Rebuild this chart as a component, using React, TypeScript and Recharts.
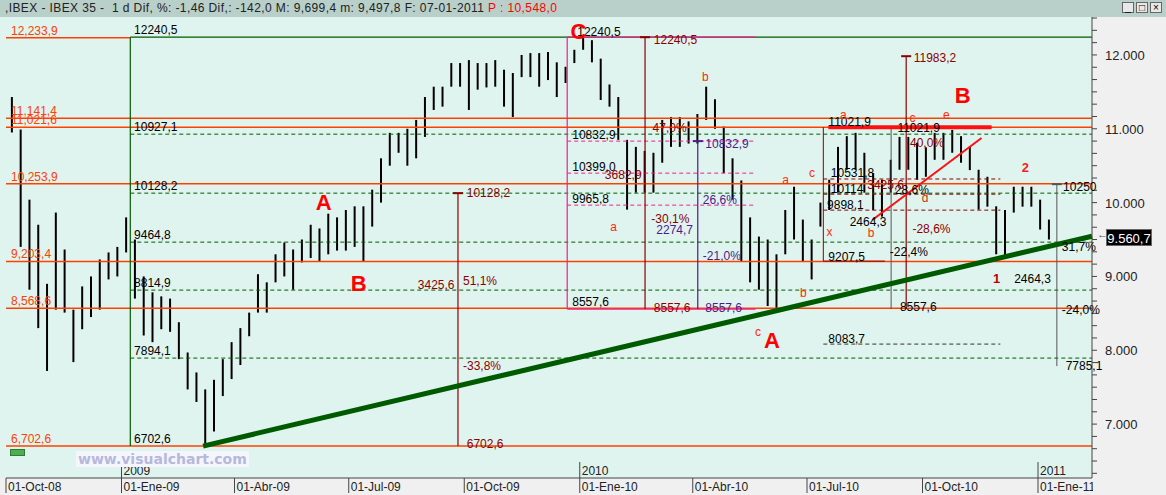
import React from 'react';
import { ComposedChart, Bar, XAxis, YAxis, ReferenceLine, ReferenceDot } from 'recharts';

// weekly high / low of the IBEX 35, week 0 = first week of Oct 2008
const weekHigh = [
  11430, 10990, 10040, 9700, 8900, 9865, 9365, 8550, 8865, 9000,
  9230, 9325, 9400, 9800, 9500, 9000, 8785, 8730, 8700, 8380,
  7970, 7700, 7470, 7600, 7880, 8110, 8300, 8510, 9030, 8920,
  9300, 9460, 9365, 9500, 9700, 9650, 9850, 9800, 9900, 9950,
  9950, 10175, 10600, 10945, 10945, 11000, 11120, 11430, 11570, 11570,
  11890, 11890, 11930, 11890, 11890, 11930, 11800, 11755, 12000, 12025,
  12025, 12040, 11900, 11840, 12070, 12240, 12200, 11950, 11600, 11430,
  10850, 10755, 10700, 10675, 11120, 11160, 11160, 11100, 11200, 11570,
  11400, 11030, 10600, 10300, 9800, 9540, 9500, 9300, 9900, 10215,
  9770, 9500, 10000, 10310, 10755, 10900, 10945, 10675, 10400, 10310,
  10580, 10890, 10890, 10810, 10750, 10945, 10945, 10985, 10900, 10755,
  10445, 10350, 9950, 9900, 10215, 10215, 10215, 10040, 9770,
];
const weekLow = [
  10950, 9400, 8820, 8300, 7720, 8550, 8510, 7840, 8285, 8450,
  8550, 8960, 9000, 9325, 8700, 8200, 8110, 8285, 8250, 7880,
  7470, 7300, 6702.6, 6900, 7380, 7610, 7800, 8190, 8510, 8510,
  8920, 9000, 8820, 9190, 9250, 9200, 9300, 9350, 9350, 9400,
  9200, 9675, 10000, 10500, 10675, 10500, 10600, 10890, 11255, 11300,
  11570, 11570, 11255, 11530, 11560, 11570, 11300, 11160, 11700, 11700,
  11570, 11660, 11430, 11620, 11890, 12070, 11900, 11390, 11300, 10850,
  9905, 10135, 10135, 10135, 10540, 10755, 10755, 10800, 10800, 11120,
  11000, 10400, 10040, 9200, 8920, 8820, 8600, 8557.6, 9300, 9500,
  9200, 8960, 9675, 9900, 10135, 10445, 10445, 10135, 9900, 9810,
  10135, 10445, 10445, 10310, 10350, 10580, 10580, 10675, 10540, 10440,
  9905, 9945, 9300, 9285, 9865, 9945, 9945, 9635, 9500,
];

// x axis in days since 01-Oct-2008
const dateTicks = [0, 92, 182, 273, 365, 457, 547, 638, 730, 822];
const dateLabels = ['01-Oct-08', '01-Ene-09', '01-Abr-09', '01-Jul-09', '01-Oct-09', '01-Ene-10', '01-Abr-10', '01-Jul-10', '01-Oct-10', '01-Ene-11'];
const yearLabels: Record<number, string> = { 92: '2009', 457: '2010', 822: '2011' };

const orangeLevels = [11141.4, 11021.6, 10253.9, 9203.4, 8568.6, 6702.6];
const orangeNames = ['12,233,9', '11,141,4', '11,021,6', '10,253,9', '9,203,4', '8,568,6', '6,702,6'];
const orangeNameLevels = [12233.9, 11141.4, 11021.6, 10253.9, 9203.4, 8568.6, 6702.6];
const fibLevels = [10927.1, 10128.2, 9464.8, 8814.9, 7894.1];
const fibNames = ['12240,5', '10927,1', '10128,2', '9464,8', '8814,9', '7894,1', '6702,6'];
const fibNameLevels = [12240.5, 10927.1, 10128.2, 9464.8, 8814.9, 7894.1, 6702.6];
const pinkLevels = [10832.9, 10399.0, 9965.8];
const brownDashLevels = [10320, 10114, 9898.1];

const bigWaves: [number, number, string][] = [
  [253, 10008, 'A'], [281, 8911, 'B'], [456, 12320, 'C'], [610, 8138, 'A'], [762, 11444, 'B'],
];
const smallWaves: [number, number, string][] = [
  [484, 9669, 'a'], [557, 11702, 'b'], [621, 10306, 'a'], [642, 10401, 'c'], [656, 9602, 'x'],
  [635, 8775, 'b'], [599, 8247, 'c'], [667, 11187, 'a'], [722, 11146, 'c'], [749, 11187, 'e'],
  [732, 10062, 'd'], [689, 9588, 'b'],
];
const blackNotes: [number, number, string][] = [
  [455, 12310, '12240,5'], [451, 10916, '10832,9'], [451, 10482, '10399,0'], [451, 10049, '9965,8'], [451, 8653, '8557,6'],
  [655, 11092, '11021,9'], [655, 9263, '9207,5'], [657, 10401, '10531,8'], [657, 10184, '10114'], [654, 9967, '9898,1'],
  [672, 9737, '2464,3'], [710, 11011, '11021,9'], [655, 8152, '8083,7'], [704, 9330, '-22,4%'], [803, 8965, '2464,3'],
  [842, 10211, '10250'], [841, 9398, '31,7%'], [841, 8545, '-24,0%'], [844, 7786, '7785,1'], [712, 8585, '8557,6'],
  [708, 10170, '28,6%'],
];
const brownNotes: [number, number, string][] = [
  [367, 10128, '10128,2'], [364, 8938, '51,1%'], [328, 8884, '3425,6'], [364, 7786, '-33,8%'], [367, 6730, '6702,6'],
  [516, 12200, '12240,5'], [516, 8570, '8557,6'], [477, 10374, '3682,9'], [514, 9778, '-30,1%'], [515, 11011, '47,0%'],
  [723, 11959, '11983,2'], [720, 10808, '40,0%'], [686, 10239, '3425,6'], [722, 9642, '-28,6%'],
];
const purpleNotes: [number, number, string][] = [
  [557, 10794, '10832,9'], [557, 8570, '8557,6'], [518, 9629, '2274,7'], [555, 10035, '26,6%'], [555, 9276, '-21,0%'],
];

const rows = weekHigh.map((h, i) => ({ day: 5 + 7 * i, range: [weekLow[i], h] }));
const priceTicks = Array.from({ length: 38 }, (_, i) => 6333.333 + i * 166.6667).filter(v => v < 12514);

const FONT = '"Liberation Sans", Arial, sans-serif';
const ORANGE = '#ff4000';
const BROWN = '#8b0000';
const PURPLE = '#4b1a8c';
const PINK = '#ee2090';
const GREEN = '#005a00';

const DateTick = (p: any) => {
  const { x, y, payload } = p;
  const i = dateTicks.indexOf(payload.value);
  const yr = yearLabels[payload.value];
  return (
    <g>
      <line x1={x} y1={y} x2={x} y2={y + 15} stroke="#444" />
      <text x={x + 2} y={y + 13} fontSize={12} fontFamily={FONT} fill="#222">{dateLabels[i]}</text>
      {yr && <line x1={x} y1={y - 16} x2={x} y2={y} stroke="#444" />}
      {yr && <text x={x + 2} y={y - 3} fontSize={12} fontFamily={FONT} fill="#222">{yr}</text>}
    </g>
  );
};

const PriceTick = (p: any) => {
  const v = p.payload.value;
  const k = Math.round(v / 1000);
  if (Math.abs(v - k * 1000) > 1) return <g />;
  return <text x={p.x} y={p.y} dy={5} fontSize={13} fontFamily={FONT} fill="#222">{k + '.000'}</text>;
};

const textAt = (text: string, color: string, size: number, bold: boolean, anchor: string) => (p: any) => {
  const vb = p.viewBox || {};
  return (
    <text x={vb.x} y={vb.y} fill={color} fontSize={size} fontFamily={FONT} fontWeight={bold ? 700 : 400}
      textAnchor={anchor} dominantBaseline="central">{text}</text>
  );
};

const note = (d: number, v: number, text: string, color: string, size = 12, bold = false, anchor = 'start', key = '') => (
  <ReferenceDot key={key || text + d + v} x={d} y={v} r={0} stroke="none" fill="none" ifOverflow="visible"
    label={textAt(text, color, size, bold, anchor)} />
);

const seg = (d1: number, v1: number, d2: number, v2: number, color: string, width = 1, dash?: string) => (
  <ReferenceLine key={`${d1}-${v1}-${d2}-${v2}-${color}`} segment={[{ x: d1, y: v1 }, { x: d2, y: v2 }]}
    stroke={color} strokeWidth={width} strokeDasharray={dash} ifOverflow="visible" />
);

export default function App() {
  return (
    <div style={{ position: 'fixed', left: 0, top: 0, width: 1166, height: 495, background: '#f0f0f0', overflow: 'hidden', fontFamily: FONT }}>
      <div style={{ position: 'absolute', left: 0, top: 0, width: 1166, height: 17, background: '#b9cfc9' }} />
      <div style={{ position: 'absolute', left: 5, top: 1, fontSize: 12, letterSpacing: 0.4, color: '#222', whiteSpace: 'pre' }}>
        {',IBEX - IBEX 35 -  1 d Dif, %: -1,46 Dif,: -142,0 M: 9,699,4 m: 9,497,8 F: 07-01-2011 '}
        <span style={{ color: '#ff0000' }}>{'P : 10,548,0'}</span>
      </div>
      {[1122, 1136, 1150].map((x, i) => (
        <div key={x} style={{ position: 'absolute', left: x, top: 2, width: 12, height: 11, background: '#e8e8e8', border: '1px solid #666', boxSizing: 'border-box', fontSize: 10, lineHeight: '9px', textAlign: 'center' }}>
          {['_', '□', '×'][i]}
        </div>
      ))}
      <div style={{ position: 'absolute', left: 0, top: 17, width: 1092, height: 461, background: '#e0f4ef' }} />
      <div style={{ position: 'absolute', left: 0, top: 17 }}>
        <ComposedChart width={1166} height={478} data={rows} margin={{ top: 0, right: 4, bottom: 0, left: 6 }}>
          <XAxis type="number" dataKey="day" domain={[0, 865]} allowDataOverflow ticks={dateTicks} interval={0}
            tickSize={0} tickMargin={0} tickLine={false} axisLine={{ stroke: '#444' }} height={17} tick={DateTick} />
          <YAxis orientation="right" type="number" domain={[6270, 12514]} allowDataOverflow ticks={priceTicks} interval={0}
            width={70} tickSize={5} tickMargin={8} axisLine={{ stroke: '#444' }} tickLine={{ stroke: '#444' }} tick={PriceTick} />

          {/* horizontal support / resistance levels */}
          {seg(0, 12233.9, 99, 12233.9, ORANGE, 1.5)}
          {orangeLevels.map(v => seg(0, v, 865, v, ORANGE, 1.5))}
          {seg(99, 12240.5, 865, 12240.5, GREEN, 1.2)}
          {seg(99, 6702.6, 99, 12240.5, GREEN, 1.2)}
          {fibLevels.map(v => seg(99, v, 865, v, GREEN, 1, '4 3'))}

          {/* pink retracement box */}
          {seg(447, 8557.6, 447, 12240.5, PINK, 1.2)}
          {seg(447, 12240.5, 597, 12240.5, PINK, 1.2)}
          {seg(447, 8557.6, 597, 8557.6, PINK, 1.2)}
          {pinkLevels.map(v => seg(447, v, 597, v, PINK, 1, '4 3'))}

          {/* measuring arrows */}
          {seg(360, 10128.2, 360, 6702.6, BROWN, 1.2)}
          {seg(356, 10128.2, 364, 10128.2, BROWN, 2)}
          {seg(509, 12240.5, 509, 8557.6, BROWN, 1.2)}
          {seg(505, 12240.5, 513, 12240.5, BROWN, 2)}
          {seg(551, 10832.9, 551, 8557.6, PURPLE, 1.2)}
          {seg(547, 10832.9, 555, 10832.9, PURPLE, 2)}
          {seg(717, 11983.2, 717, 8557.6, BROWN, 1.2)}
          {seg(713, 11983.2, 721, 11983.2, BROWN, 2)}
          {seg(705, 11021.9, 705, 8557.6, '#555', 1)}
          {seg(837, 10250, 837, 7785.1, '#555', 1)}
          {seg(833, 10250, 841, 10250, '#555', 2)}
          {seg(651, 11021.9, 651, 9207.5, BROWN, 1)}
          {seg(651, 9207.5, 700, 9207.5, BROWN, 1)}
          {brownDashLevels.map(v => seg(651, v, 792, v, BROWN, 1, '4 3'))}
          {seg(651, 8083.7, 792, 8083.7, '#333', 1, '4 3')}

          <Bar dataKey="range" fill="#000" barSize={2} isAnimationActive={false} />

          {/* trend lines */}
          {seg(157, 6702.6, 865, 9545, GREEN, 5)}
          {seg(655, 11021.9, 785, 11021.9, '#ff1010', 4)}
          {seg(690, 9764, 777, 10875, '#ff1010', 2)}

          {orangeNames.map((t, i) => note(4, orangeNameLevels[i] + 95, t, ORANGE))}
          {fibNames.map((t, i) => note(102, fibNameLevels[i] + 95, t, '#000'))}
          {blackNotes.map(([d, v, t]) => note(d, v, t, '#000'))}
          {brownNotes.map(([d, v, t]) => note(d, v, t, BROWN))}
          {purpleNotes.map(([d, v, t]) => note(d, v, t, PURPLE))}
          {smallWaves.map(([d, v, t]) => note(d, v, t, t === 'd' ? '#d03010' : '#ff2a00', 12, false, 'middle'))}
          {note(789, 8978, '1', '#c00000', 13, true, 'middle')}
          {note(812, 10482, '2', '#ff1a1a', 13, true, 'middle')}
          {bigWaves.map(([d, v, t]) => note(d, v, t, '#ff0000', 22, true, 'middle'))}
        </ComposedChart>
      </div>
      <div style={{ position: 'absolute', left: 1093, top: 479, width: 73, height: 16, background: '#f0f0f0' }} />
      <div style={{ position: 'absolute', left: 10, top: 449, width: 13, height: 5, background: '#4caf50', border: '1px solid #2e7d32' }} />
      <div style={{ position: 'absolute', left: 76, top: 451, padding: '0 2px', lineHeight: '16px', background: '#f4f6fb', color: '#b6b8dc', fontWeight: 700, fontSize: 14, fontFamily: '"DejaVu Sans", sans-serif' }}>
        www.visualchart.com
      </div>
      <div style={{ position: 'absolute', left: 1097, top: 228, fontSize: 11, color: '#555' }}>←</div>
      <div style={{ position: 'absolute', left: 1106, top: 229, width: 46, height: 17, background: '#000', color: '#fff', fontSize: 13, lineHeight: '17px', textAlign: 'center', border: '1px solid #666', boxSizing: 'border-box' }}>
        9.560,7
      </div>
    </div>
  );
}
